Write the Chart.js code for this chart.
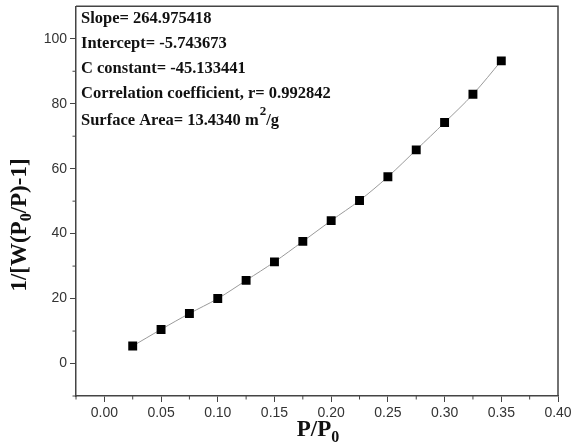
<!DOCTYPE html>
<html>
<head>
<meta charset="utf-8">
<script src="https://cdn.jsdelivr.net/npm/chart.js@4/dist/chart.umd.min.js"></script>
<style>
html,body{margin:0;padding:0;background:#fff;}
#wrap{width:573px;height:444px;}
</style>
</head>
<body>
<div id="wrap"><canvas id="c" width="573" height="444"></canvas></div>
<script>
const pressureRatio = [0.025,0.05,0.075,0.10,0.125,0.15,0.175,0.20,0.225,0.25,0.275,0.30,0.325,0.35];
const betValues = [5.4,10.5,15.4,20.0,25.6,31.3,37.6,44.0,50.2,57.5,65.8,74.2,82.9,93.2];
const xTickValues = [0,0.05,0.10,0.15,0.20,0.25,0.30,0.35,0.40];
const yTickValues = [0,20,40,60,80,100];
const xMinorTicks = [-0.025,0.025,0.075,0.125,0.175,0.225,0.275,0.325,0.375];
const yMinorTicks = [-10,10,30,50,70,90];
const infoLines = [
  "Slope= 264.975418",
  "Intercept= -5.743673",
  "C constant= -45.133441",
  "Correlation coefficient, r= 0.992842"
];
const surfaceArea = {label:"Surface Area= 13.4340 m", sup:"2", tail:"/g"};

const AXIS = '#444';
const decorPlugin = {
  id:'decor',
  afterDraw(chart){
    const ctx = chart.ctx, a = chart.chartArea;
    const xs = chart.scales.x, ys = chart.scales.y;
    ctx.save();
    ctx.strokeStyle = AXIS; ctx.lineWidth = 1.5;
    ctx.beginPath();
    ctx.moveTo(a.left, a.top); ctx.lineTo(a.right, a.top); ctx.lineTo(a.right, a.bottom);
    ctx.stroke();
    ctx.lineWidth = 1;
    ctx.beginPath();
    xMinorTicks.forEach(v=>{const p = xs.getPixelForValue(v); ctx.moveTo(p, a.bottom); ctx.lineTo(p, a.bottom+3.5);});
    yMinorTicks.forEach(v=>{const p = ys.getPixelForValue(v); ctx.moveTo(a.left, p); ctx.lineTo(a.left-3.5, p);});
    ctx.stroke();

    ctx.fillStyle = '#111';
    const tf = 'bold 23px "Liberation Serif", "Times New Roman", serif';
    const sf = 'bold 16px "Liberation Serif", "Times New Roman", serif';
    ctx.textBaseline = 'alphabetic';
    ctx.textAlign = 'left';
    // x title
    ctx.font = tf;
    const xt = 'P/P', w1 = ctx.measureText(xt).width;
    ctx.font = sf; const w2 = ctx.measureText('0').width;
    let x0 = 318 - (w1+w2)/2;
    ctx.font = tf; ctx.fillText(xt, x0, 436);
    ctx.font = sf; ctx.fillText('0', x0+w1, 442);
    // y title
    ctx.save();
    ctx.translate(26, 225);
    ctx.rotate(-Math.PI/2);
    const p1 = '1/[W(P', p2 = '0', p3 = '/P)-1]';
    ctx.font = tf; const a1 = ctx.measureText(p1).width, a3 = ctx.measureText(p3).width;
    ctx.font = sf; const a2 = ctx.measureText(p2).width;
    let sx = -(a1+a2+a3)/2;
    ctx.font = tf; ctx.fillText(p1, sx, 0);
    ctx.font = sf; ctx.fillText(p2, sx+a1, 5);
    ctx.font = tf; ctx.fillText(p3, sx+a1+a2, 0);
    ctx.restore();

    // info box
    const bf = 'bold 16.5px "Liberation Serif", "Times New Roman", serif';
    ctx.font = bf;
    const ys0 = [23, 48, 73, 98];
    infoLines.forEach((t,i)=>ctx.fillText(t, 81, ys0[i]));
    const by = 125;
    ctx.fillText(surfaceArea.label, 81, by);
    const lw = ctx.measureText(surfaceArea.label).width;
    ctx.font = 'bold 13px "Liberation Serif", "Times New Roman", serif';
    ctx.fillText(surfaceArea.sup, 81+lw+1, by-10);
    const sw = ctx.measureText(surfaceArea.sup).width;
    ctx.font = bf;
    ctx.fillText(surfaceArea.tail, 81+lw+sw+1, by);
    ctx.restore();
  }
};

new Chart(document.getElementById('c'), {
  type:'line',
  data:{
    datasets:[{
      data: pressureRatio.map((x,i)=>({x, y: betValues[i]})),
      borderColor:'#9a9a9a', borderWidth:1, tension:0.35,
      pointStyle:'rect', pointRadius:6.3, pointHoverRadius:6.3,
      pointBackgroundColor:'#000', pointBorderColor:'#000', pointBorderWidth:0
    }]
  },
  options:{
    responsive:false, animation:false,
    layout:{padding:{left:0, top:5, right:15, bottom:0}},
    plugins:{legend:{display:false}, tooltip:{enabled:false}},
    scales:{
      x:{
        type:'linear', min:-0.025, max:0.40,
        afterBuildTicks(s){ s.ticks = xTickValues.map(v=>({value:v})); },
        afterFit(s){ s.height = 48; s.paddingLeft = 0; s.paddingRight = 0; },
        grid:{drawOnChartArea:false, tickLength:6, tickColor:AXIS, tickWidth:1},
        border:{color:AXIS, width:1.5},
        ticks:{color:'#333', font:{family:'"Liberation Sans", Arial, sans-serif', size:14}, padding:3, maxRotation:0,
          callback:v=>v.toFixed(2)}
      },
      y:{
        type:'linear', min:-10, max:110,
        afterBuildTicks(s){ s.ticks = yTickValues.map(v=>({value:v})); },
        afterFit(s){ s.width = 76; s.paddingTop = 0; s.paddingBottom = 0; },
        grid:{drawOnChartArea:false, tickLength:6, tickColor:AXIS, tickWidth:1},
        border:{color:AXIS, width:1.5},
        ticks:{color:'#333', font:{family:'"Liberation Sans", Arial, sans-serif', size:14}, padding:3,
          callback:v=>String(v)}
      }
    }
  },
  plugins:[decorPlugin]
});
</script>
</body>
</html>
